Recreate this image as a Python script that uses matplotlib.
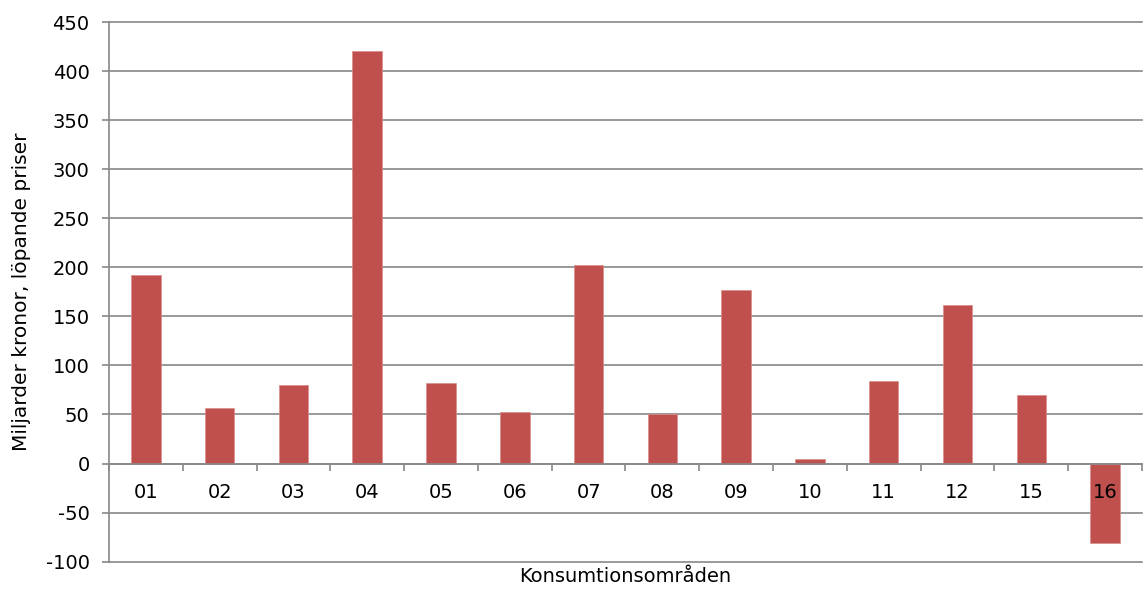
import matplotlib
matplotlib.use('Agg')
import matplotlib.pyplot as plt
import numpy as np

plt.rcParams['font.family'] = ['DejaVu Sans']
plt.rcParams['axes.unicode_minus'] = False

# Konsumtionsområden och värden (miljarder kronor, löpande priser)
categories = ['01', '02', '03', '04', '05', '06', '07', '08', '09', '10', '11', '12', '15', '16']
values = [192, 57, 80, 420, 82, 53, 202, 50, 177, 5, 84, 162, 70, -81]
y_ticks = list(range(-100, 451, 50))

bar_color = '#C0504D'
grid_color = '#888888'

fig = plt.figure(figsize=(11.46, 5.90), dpi=100)
ax = fig.add_axes([0.0951, 0.048, 0.9014, 0.9147])

x = np.arange(len(categories))

# gridlines drawn under the bars, axis (tick labels) drawn above them
for t in y_ticks:
    ax.axhline(t, color=grid_color, linewidth=1.2, zorder=0.5, clip_on=False)
ax.bar(x, values, width=0.4, color=bar_color, edgecolor='#D98C8A', linewidth=0.5, zorder=1)

ax.set_xlim(-0.5, len(categories) - 0.5)
ax.set_ylim(-100, 450)
ax.set_yticks(y_ticks)
ax.set_yticklabels([str(v) for v in y_ticks])

# spines: left gray, x axis along zero
for s in ['top', 'right']:
    ax.spines[s].set_visible(False)
ax.spines['left'].set_color(grid_color)
ax.spines['left'].set_linewidth(1.2)
ax.spines['bottom'].set_position(('data', 0))
ax.spines['bottom'].set_color(grid_color)
ax.spines['bottom'].set_linewidth(1.2)

ax.set_xticks(x)
ax.set_xticklabels(categories)
ax.set_xticks(np.arange(-0.5, len(categories), 1.0), minor=True)
ax.tick_params(axis='x', which='major', length=0, pad=14, labelsize=14)
ax.tick_params(axis='x', which='minor', length=5, width=1.2, color=grid_color, direction='out')
ax.tick_params(axis='y', length=5, width=1.2, color=grid_color, pad=9, labelsize=14)

ax.set_ylabel('Miljarder kronor, löpande priser', fontsize=14.5)
ax.yaxis.set_label_coords(-0.0755, 0.5)
ax.set_xlabel('Konsumtionsområden', fontsize=14)
ax.xaxis.set_label_coords(0.5, -0.01)

fig.savefig('out.png', dpi=100)
